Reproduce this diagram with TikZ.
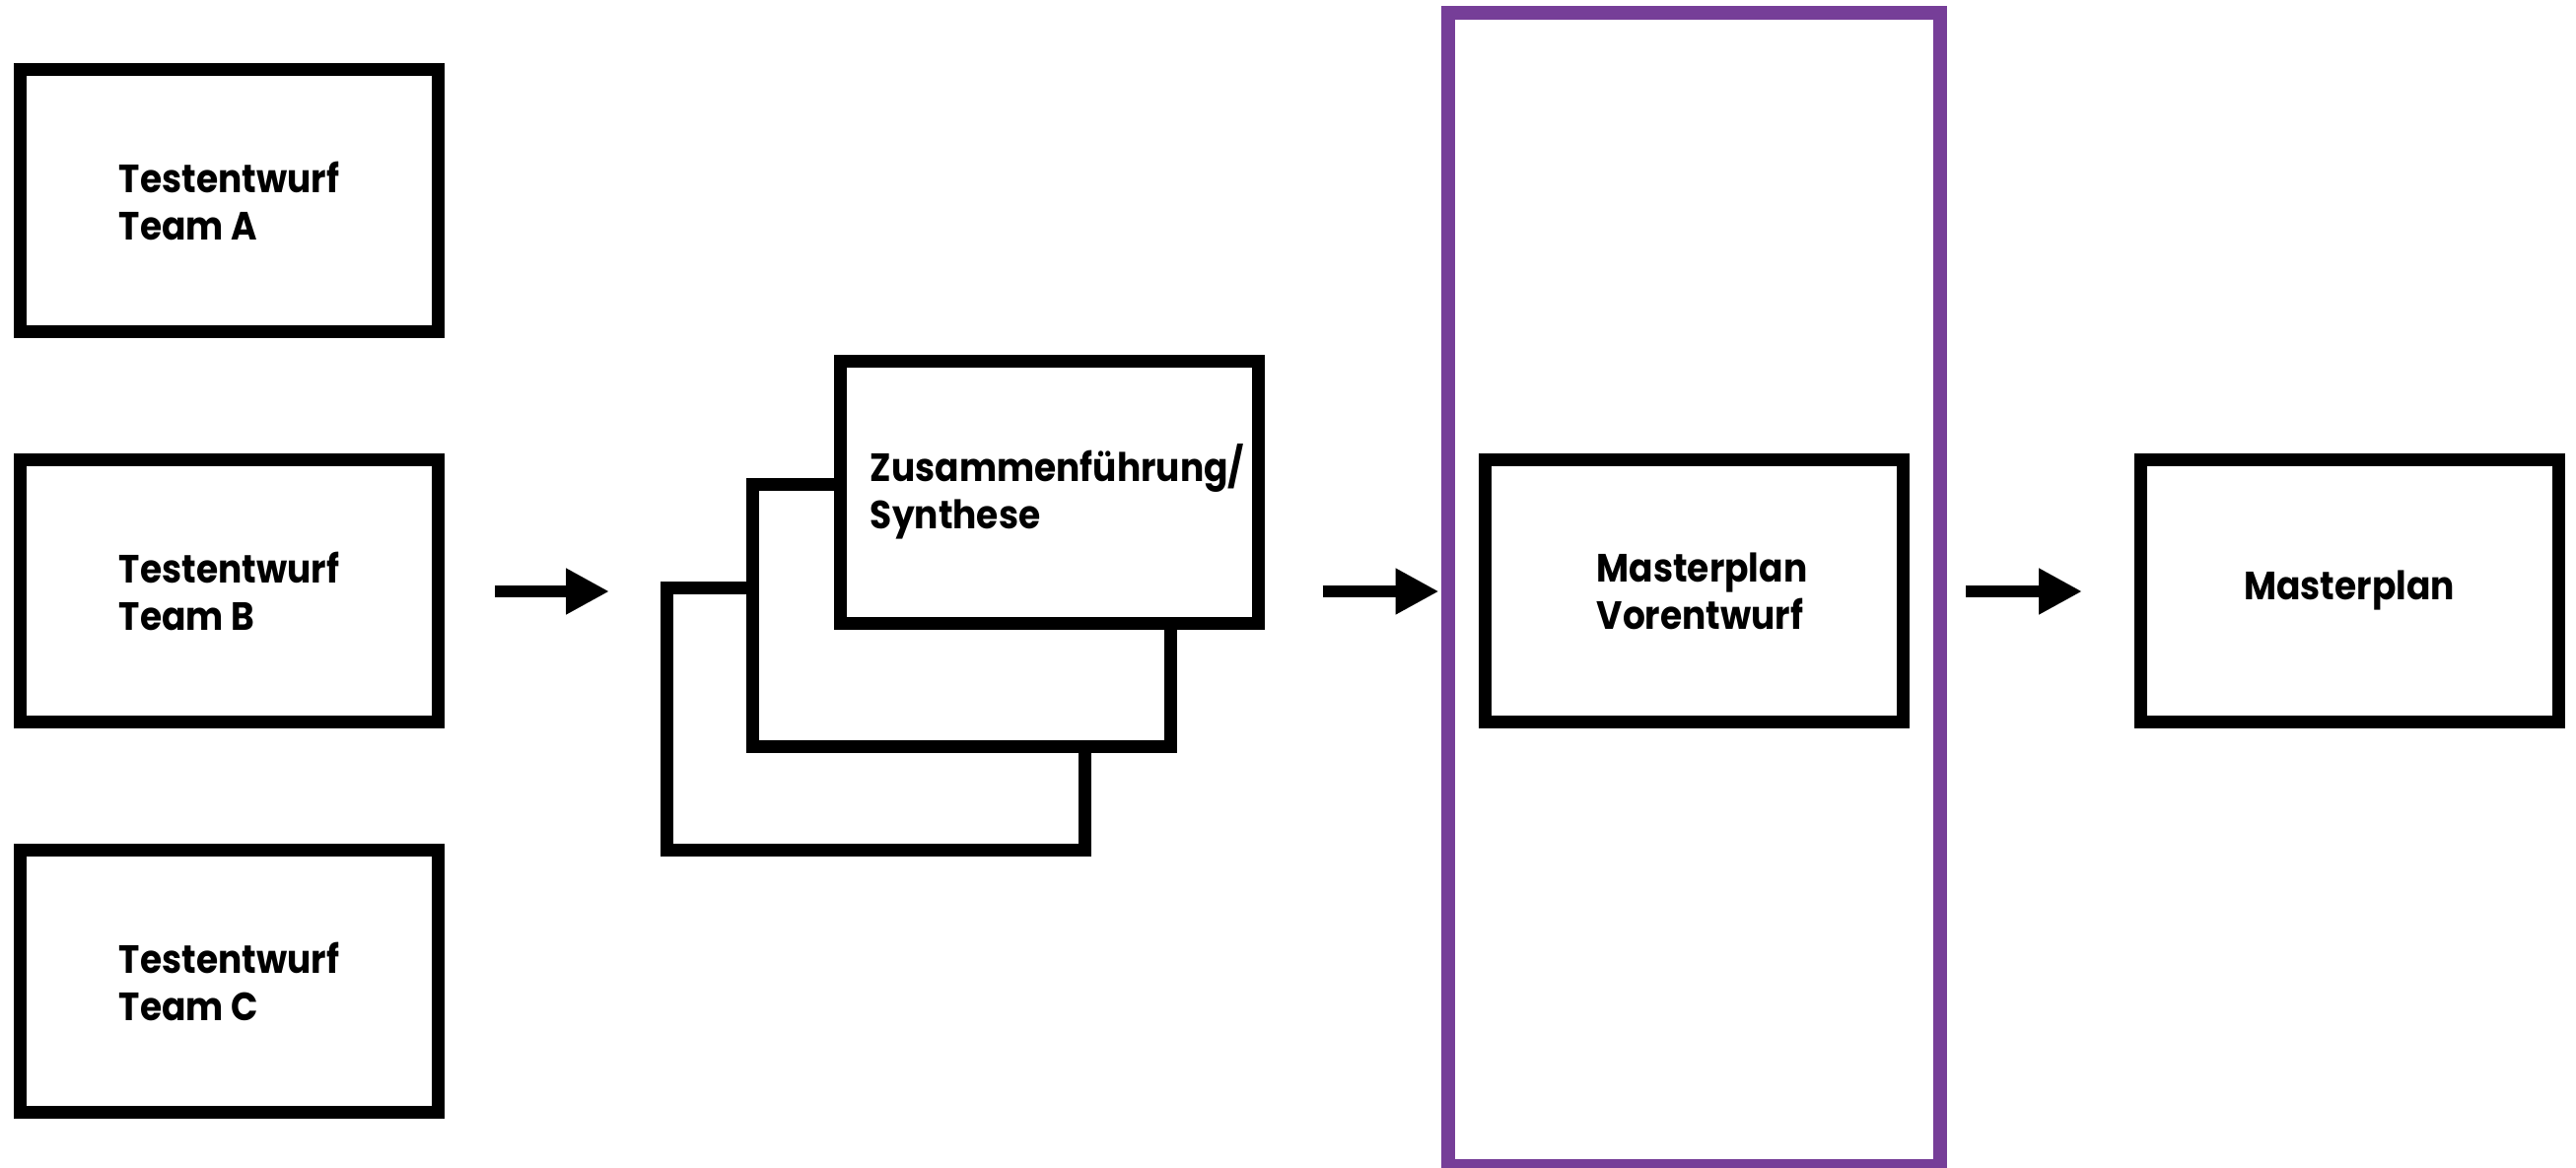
\documentclass[tikz,border=0pt]{standalone}
\usepackage{fontspec}
\setmainfont{Poppins}[UprightFont=* Bold, FakeStretch=0.9]
\usetikzlibrary{arrows.meta}
\definecolor{framepurple}{RGB}{118,62,152}
\begin{document}
\begin{tikzpicture}[x=0.5pt,y=-0.5pt,
  box/.style={draw=black, line width=6.5pt, fill=white, minimum width=212pt,
    minimum height=133pt, align=left, inner sep=0pt,
    font=\fontsize{20pt}{24pt}\selectfont},
  arr/.style={line width=5.75pt, -{Triangle[length=22pt,width=22pt]}},
  groupframe/.style={draw=framepurple, line width=6.75pt, minimum width=249.5pt,
    minimum height=585pt, inner sep=0pt}
]
\useasboundingbox (0,0) rectangle (2613,1184);
% left column
\node[box] (A) at (232.5,203.5) {Testentwurf\\Team A};
\node[box] (B) at (232.5,599.5) {Testentwurf\\Team B};
\node[box] (C) at (232.5,995.8) {Testentwurf\\Team C};
% stacked synthesis boxes
\node[box] (back) at (888,729.5) {};
\node[box] (mid) at (975.7,624) {};
\node[box] (front) at (1064.5,499) {\hspace*{8pt}Zusammenführung/\\\hspace*{8pt}Synthese};
% purple frame
\node[groupframe] (frame) at (1718.5,598) {};
\node[box] (pre) at (1718.5,599.6) {\hspace*{8pt}Masterplan\\\hspace*{8pt}Vorentwurf};
% final
\node[box] (final) at (2383,599.5) {Masterplan};
% arrows
\coordinate (a1s) at (502,600);
\coordinate (a1e) at (618,600);
\coordinate (a2s) at (1341.7,600);
\coordinate (a2e) at (1459.5,600);
\coordinate (a3s) at (1994,600);
\coordinate (a3e) at (2112,600);
\draw[arr] (a1s) -- (a1e);
\draw[arr] (a2s) -- (a2e);
\draw[arr] (a3s) -- (a3e);
\end{tikzpicture}
\end{document}
